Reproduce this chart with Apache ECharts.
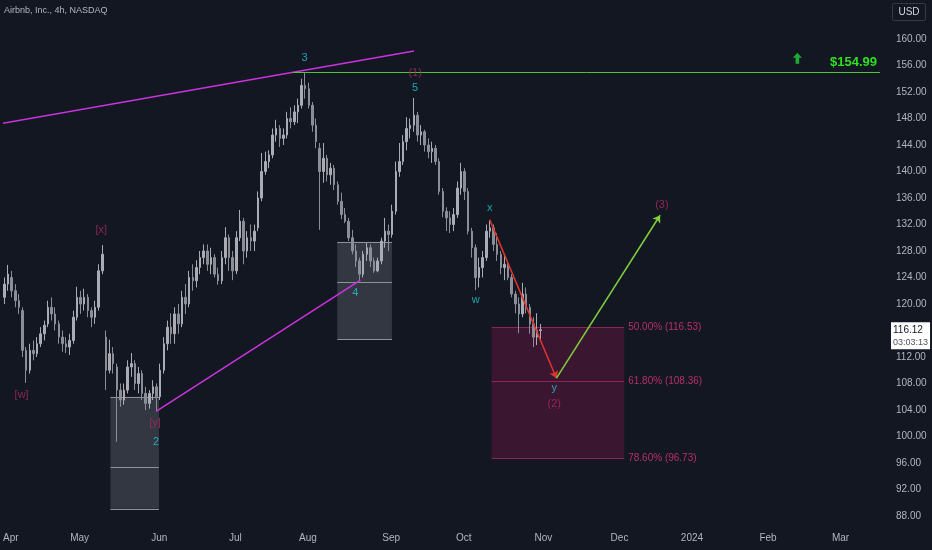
<!DOCTYPE html>
<html>
<head>
<meta charset="utf-8">
<script src="https://cdn.jsdelivr.net/npm/echarts@6/dist/echarts.min.js"></script>
<style>
html, body { margin: 0; padding: 0; background: #131722; }
#main { width: 932px; height: 550px; }
</style>
</head>
<body>
<div id="main"></div>
<script>
'use strict'

// x unit = one trading day, 0 = Apr 3 2023
const monthStarts = [0, 19, 41, 62, 82, 105, 125, 147, 168, 188, 209, 229];
const monthLabels = ['Apr', 'May', 'Jun', 'Jul', 'Aug', 'Sep', 'Oct', 'Nov', 'Dec', '2024', 'Feb', 'Mar'];
const priceTicks = [88, 92, 96, 100, 104, 108, 112, 116, 120, 124, 128, 132, 136, 140, 144, 148, 152, 156, 160];

// daily OHLC, starting at day -2 (Mar 30)
const firstDay = -2;
const opens = [121, 123, 124, 122, 120.5, 119, 113, 110, 113, 112.5, 114, 115.5, 117, 119.5, 118.5, 117, 115, 114, 113.5, 114.5,
  118, 121, 120, 121, 119, 118, 119.5, 125, 115, 110, 112.5, 110.5, 107, 105.5, 107, 110.5, 111, 108, 109.5, 106.5,
  105, 106.5, 107.5, 106, 110, 114, 116.5, 115.5, 118.5, 117, 121, 120, 124, 123.5, 125.5, 127, 128, 126, 127, 124.5,
  123.5, 127, 130, 127, 125, 130, 132.5, 128, 130, 129.5, 131.5, 136, 140, 141.5, 142.5, 145.5, 146.5, 145, 145.5, 148,
  147.5, 149, 150, 153, 152.5, 150, 147, 143.5, 140, 142, 139.5, 140.5, 138, 135.5, 133.5, 132.5, 130, 128, 126.5, 124.5,
  127.5, 128.5, 126.5, 125, 126.5, 129.5, 131, 130.5, 134, 140, 141.5, 144.5, 146.5, 147, 148.5, 145.5, 146, 144, 143, 143.5,
  141.5, 137, 134, 133, 132, 133.5, 137.5, 140, 137, 131, 128.5, 124, 125.5, 127, 131, 131.5, 129, 127.5, 125.5, 126,
  124, 121.5, 120, 118.5, 121.5, 119.5, 117, 115, 116];
const closes = [123, 124.5, 122, 120.5, 119.5, 113, 110, 113, 112.5, 114, 115.5, 116.8, 119.5, 118.5, 117, 115, 114, 113.5, 114.5, 118,
  121, 120, 121, 119, 118, 119.5, 125, 127.5, 110, 112.5, 111, 107, 105.5, 107, 110.5, 111, 108, 109.5, 106.5, 105,
  106.5, 107.5, 106, 110, 114, 116.5, 115.5, 118.5, 117, 121, 120, 124, 123.5, 125.5, 127, 128, 126, 127, 124.5, 123.5,
  127, 130, 127, 125, 130, 132.5, 128, 130, 129.5, 131, 136, 140, 141.5, 142.5, 145.5, 146.5, 145, 145.5, 148, 147.5,
  149, 150, 153, 152.5, 150, 147, 144.5, 140, 142, 139.5, 140.5, 138, 135.5, 133.5, 132.5, 130, 128, 126.5, 124.5, 127.5,
  128.5, 126.5, 125, 126.5, 129.5, 131, 130.5, 134, 140, 141.5, 144.5, 146.5, 147, 148.5, 145.5, 146, 144, 143, 143.5, 141.5,
  137, 134, 133, 132, 133.5, 137.5, 140, 137, 131, 128.5, 124, 125.5, 127, 131, 131.5, 129, 127.5, 125.5, 126, 124,
  121.5, 120, 118.5, 121.5, 119.5, 117, 115, 116, 116.12];
const lows = [120, 122, 121, 119.5, 118.5, 112, 108.1, 109.5, 111.5, 112, 113.5, 114.5, 116.5, 117.5, 116, 114, 112.8, 112.6, 112.3, 114,
  117.5, 118.5, 119, 118, 116.5, 117, 119, 124.5, 107, 109.5, 109.5, 99.2, 104.5, 104.8, 106.5, 109, 107, 106.5, 105.5, 104,
  104.2, 105.5, 103.9, 105.5, 109.5, 113, 114, 114, 115.5, 116.5, 118.5, 119.5, 122, 122.5, 124.5, 126, 125, 124.5, 124, 122.9,
  123, 126, 125, 123.6, 124.5, 129.5, 126, 127, 128, 128, 131, 135.5, 139.5, 140.5, 142, 144.5, 143.7, 144, 145, 146.5,
  147, 147.3, 149.5, 151, 149.5, 146, 143.5, 131.2, 138.3, 138.5, 138, 137.2, 135, 132.8, 132.2, 129.5, 127.5, 125.6, 123.6, 124,
  126.5, 125.6, 124.7, 124.8, 126, 128.5, 128, 130, 133.5, 139.2, 141, 143.2, 145, 146, 144.5, 144, 143, 142, 141.3, 141,
  136.5, 133.1, 131, 130.7, 131, 133, 136.5, 135.7, 130.5, 127, 122.1, 122.5, 124, 126.5, 130, 128, 126.5, 124.5, 123.6, 123.6,
  121, 118.6, 115.6, 118, 118.6, 115.5, 113.5, 113.8, 114.5];
const highs = [124, 125.9, 125, 123, 121.5, 119.5, 113.5, 114, 114.5, 115, 116.5, 117.5, 120.5, 121, 119.5, 117.5, 116, 115, 115.5, 119,
  122.6, 122, 122.3, 121.5, 119.5, 120.5, 126, 128.9, 116, 114.6, 113.5, 111, 108, 108, 111.5, 112.6, 111.5, 110.5, 110, 107.5,
  107, 108.5, 108, 111, 115, 117.5, 118.6, 119.5, 120, 122, 123, 125, 126, 126.6, 128, 129, 129, 128.5, 127.5, 125.5,
  128, 131.6, 130.5, 128, 131, 134.2, 133, 131, 132, 132, 137, 142.8, 143, 143.2, 146.5, 147.8, 147, 146.5, 149, 149.7,
  150, 151, 154, 155, 153.4, 150.5, 148, 144.3, 144.3, 142.5, 141.3, 141, 138.5, 136.8, 134.5, 133, 131.2, 129, 127, 128,
  129.2, 129, 127, 127, 130, 133, 132, 135, 141.5, 144.3, 145.5, 148.2, 148, 151.1, 149, 147, 146.3, 145, 144.5, 144,
  142, 137.5, 134.6, 134, 134.5, 138.5, 141.3, 140.5, 137.5, 131.5, 129, 127, 128, 132, 132.7, 132, 130.7, 128, 127.5, 126.5,
  124.5, 122, 121, 123.2, 122.5, 120, 118, 118.6, 117];
const lastPrice = 116.12;
const countdown = '03:03:13';

// drawings, in [day, price]
const upperTrend = [[-5, 147.0], [111.3, 158.2]];
const lowerTrend = [[40.1, 103.8], [96.5, 123.6]];
const resistance = 154.99;
const resistanceFrom = 77.8;
const redPath = [[132.2, 132.7], [150.6, 108.8]];
const greenPath = [[150.6, 108.8], [179.2, 133.4]];
const upIcon = [217.1, 157.1];
// [fromDay, toDay, top, middle, bottom]
const greyBoxes = [[27.5, 40.9, 106.0, 95.4, 89.1], [90.1, 105.2, 129.4, 123.3, 114.7]];
const fibBox = [[132.7, 169.3, 116.53, 108.36, 96.73]];
const fibRatios = ['50.00%', '61.80%', '78.60%'];
// [text, day, price]
const cyanWaves = [['3', 81.1, 157.1], ['5', 111.6, 152.6], ['4', 95.1, 121.7], ['2', 40.1, 99.2],
  ['x', 132.2, 134.5], ['w', 128.3, 120.6], ['y', 150.0, 107.3]];
const pinkWaves = [['[w]', 3.0, 106.3], ['[x]', 25.0, 131.2], ['[y]', 39.8, 102.0],
  ['(1)', 111.6, 154.9], ['(2)', 150.0, 104.9], ['(3)', 179.7, 134.9]];

const xMin = -1.924, xMax = 239.9;
const FONT = '"Liberation Sans Narrow", "Liberation Sans", sans-serif';

const candles = opens.map((o, i) => [firstDay + i + 0.25, o, closes[i], lows[i], highs[i]]);

function boxRenderer(fill, edge, labelColor) {
    return function (params, api) {
        const levels = [api.value(2), api.value(3), api.value(4)];
        const tl = api.coord([api.value(0), levels[0]]);
        const br = api.coord([api.value(1), levels[2]]);
        const children = [{
            type: 'rect',
            shape: { x: tl[0], y: tl[1], width: br[0] - tl[0], height: br[1] - tl[1] },
            style: { fill: fill }
        }];
        levels.forEach((lv, i) => {
            const y = Math.round(api.coord([api.value(0), lv])[1]) + 0.5;
            children.push({ type: 'line', shape: { x1: tl[0], y1: y, x2: br[0], y2: y }, style: { stroke: edge, lineWidth: 1 } });
            if (labelColor) {
                children.push({
                    type: 'text',
                    style: { x: br[0] + 4, y: y, text: fibRatios[i] + ' (' + lv.toFixed(2) + ')', fill: labelColor, font: '10px ' + FONT, verticalAlign: 'middle' }
                });
            }
        });
        return { type: 'group', children: children };
    };
}

function waveSeries(list, color) {
    return {
        type: 'scatter',
        symbolSize: 1,
        itemStyle: { color: 'transparent' },
        label: { show: true, position: 'inside', formatter: '{b}', color: color, fontSize: 11, fontFamily: FONT },
        data: list.map(w => ({ name: w[0], value: [w[1], w[2]] })),
        z: 5
    };
}

var myChart = echarts.init(document.getElementById('main'));

var option = {
    backgroundColor: '#131722',
    animation: false,
    title: {
        text: 'Airbnb, Inc., 4h, NASDAQ',
        left: 4, top: 6, padding: 0,
        textStyle: { color: '#b2b5be', fontSize: 9, fontWeight: 'normal', fontFamily: FONT }
    },
    graphic: [{
        type: 'group', right: 6, top: 3,
        children: [
            { type: 'rect', shape: { x: 0, y: 0, width: 33, height: 17, r: 2 }, style: { fill: '#131722', stroke: '#363a45' } },
            { type: 'text', style: { x: 16.5, y: 8.5, text: 'USD', fill: '#d1d4dc', font: '10px ' + FONT, align: 'center', verticalAlign: 'middle' } }
        ]
    }],
    grid: { left: 0, right: 52, top: 0, bottom: 30 },
    xAxis: {
        type: 'value',
        min: xMin, max: xMax,
        axisLine: { show: false }, axisTick: { show: false }, splitLine: { show: false },
        axisLabel: {
            customValues: monthStarts,
            formatter: v => monthLabels[monthStarts.indexOf(v)],
            color: '#b2b5be', fontSize: 10, fontFamily: FONT, margin: 13
        }
    },
    yAxis: {
        type: 'value',
        position: 'right',
        min: 87.396, max: 165.887,
        axisLine: { show: false }, axisTick: { show: false }, splitLine: { show: false },
        axisLabel: {
            customValues: priceTicks,
            formatter: v => v.toFixed(2),
            color: '#b2b5be', fontSize: 10, fontFamily: FONT, margin: 16
        }
    },
    series: [
        {
            type: 'custom',
            renderItem: boxRenderer('rgba(120,123,134,0.32)', '#8e919a', null),
            data: greyBoxes,
            z: 1
        },
        {
            type: 'custom',
            renderItem: boxRenderer('rgba(140,22,82,0.33)', '#8c2458', '#b8306a'),
            data: fibBox,
            z: 1
        },
        {
            type: 'candlestick',
            barWidth: 2,
            data: candles,
            encode: { x: 0, y: [1, 2, 3, 4] },
            itemStyle: { color: '#a9acb4', color0: '#8b8e97', borderColor: '#a9acb4', borderColor0: '#8b8e97', borderWidth: 1 },
            z: 2,
            markLine: {
                silent: true,
                symbol: ['none', 'none'],
                label: { show: false },
                data: [
                    [
                        { coord: [resistanceFrom, resistance], lineStyle: { color: '#4fc43a', width: 1, type: 'solid' },
                          label: { show: true, position: 'insideEndTop', formatter: '$' + resistance.toFixed(2), color: '#2ee01f', fontSize: 13, fontWeight: 'bold', fontFamily: FONT, distance: 3 } },
                        { coord: [xMax, resistance] }
                    ],
                    [
                        { coord: redPath[0], symbol: 'none', lineStyle: { color: '#e0362c', width: 1.5, type: 'solid' } },
                        { coord: redPath[1], symbol: 'arrow', symbolSize: 7 }
                    ],
                    [
                        { coord: greenPath[0], symbol: 'none', lineStyle: { color: '#7fd13b', width: 1.5, type: 'solid' } },
                        { coord: greenPath[1], symbol: 'arrow', symbolSize: 7 }
                    ],
                    {
                        yAxis: lastPrice,
                        lineStyle: { color: 'rgba(0,0,0,0)', width: 1 },
                        label: {
                            show: true, position: 'end', distance: 11, offset: [0, 6],
                            formatter: '{a|' + lastPrice.toFixed(2) + '}\n{b|' + countdown + '}',
                            backgroundColor: '#ffffff', padding: [2, 2, 1, 2],
                            rich: {
                                a: { color: '#131722', fontSize: 10, fontFamily: FONT, lineHeight: 12 },
                                b: { color: '#50535e', fontSize: 9, fontFamily: FONT, lineHeight: 12 }
                            }
                        }
                    }
                ]
            }
        },
        {
            type: 'line', data: upperTrend, symbol: 'none',
            lineStyle: { color: '#cc33e0', width: 1.5 }, z: 3
        },
        {
            type: 'line', data: lowerTrend, symbol: 'none',
            lineStyle: { color: '#cc33e0', width: 1.5 }, z: 3
        },
        waveSeries(cyanWaves, '#22c7d4'),
        waveSeries(pinkWaves, '#ad2a5f'),
        {
            type: 'scatter',
            symbol: 'path://M5,0 L10,5 L7,5 L7,11 L3,11 L3,5 L0,5 Z',
            symbolSize: [9, 11],
            itemStyle: { color: '#22d13a' },
            data: [upIcon],
            z: 5
        }
    ]
};

myChart.setOption(option);
</script>
</body>
</html>
